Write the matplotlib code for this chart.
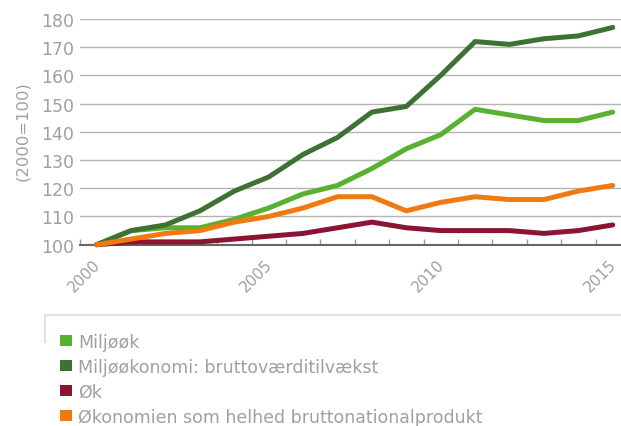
import matplotlib
matplotlib.use('Agg')
import matplotlib.pyplot as plt
import matplotlib.transforms as mtransforms
from matplotlib.lines import Line2D
from matplotlib.patches import Rectangle

years = list(range(2000, 2016))
miljoeoek = [100, 105, 106, 106, 109, 113, 118, 121, 127, 134, 139, 148, 146, 144, 144, 147]
miljoeoekonomi = [100, 105, 107, 112, 119, 124, 132, 138, 147, 149, 160, 172, 171, 173, 174, 177]
oek = [100, 101, 101, 101, 102, 103, 104, 106, 108, 106, 105, 105, 105, 104, 105, 107]
oekonomien = [100, 102, 104, 105, 108, 110, 113, 117, 117, 112, 115, 117, 116, 116, 119, 121]

labels = ['Miljøøk', 'Miljøøkonomi: bruttoværditilvækst', 'Øk',
          'Økonomien som helhed bruttonationalprodukt']
series = [miljoeoek, miljoeoekonomi, oek, oekonomien]
colors = ['#58b130', '#3e7233', '#8c1432', '#f07a12']

y_ticks = [100, 110, 120, 130, 140, 150, 160, 170, 180]
x_labels = [2000, 2005, 2010, 2015]

W, H = 621, 427
gray = '#a0a0a0'

fig = plt.figure(figsize=(W / 100, H / 100), dpi=100)
ax = fig.add_axes([79.5 / W, 1 - 245.7 / H, 550.4 / W, 225.7 / H])

# draw order: dark red, orange, dark green, light green on top
for i in [2, 3, 1, 0]:
    ax.plot(years, series[i], color=colors[i], lw=3.6, solid_capstyle='round',
            solid_joinstyle='round', clip_on=False, zorder=3 + i * 0.1)

ax.set_xlim(1999.5, 2015.5)
ax.set_ylim(100, 180)
ax.set_yticks(y_ticks)
ax.set_yticklabels([str(v) for v in y_ticks])
ax.yaxis.grid(True, color='#b4b4b4', lw=1)
ax.set_axisbelow(True)

ax.set_xticks(x_labels)
ax.set_xticklabels([str(v) for v in x_labels])
ax.set_xticks([y - 0.5 for y in years] + [2015.5], minor=True)
ax.tick_params(axis='x', which='major', length=0, pad=8, labelsize=11, labelcolor=gray)
ax.tick_params(axis='x', which='minor', direction='in', length=4.5, width=1, color='#999999')
ax.tick_params(axis='y', length=0, pad=4, labelsize=12.5, labelcolor=gray)
shift = mtransforms.ScaledTranslation(-4 / 100, 0, fig.dpi_scale_trans)
for lab in ax.get_xticklabels():
    lab.set_rotation(45)
    lab.set_ha('right')
    lab.set_va('top')
    lab.set_rotation_mode('anchor')
    lab.set_transform(lab.get_transform() + shift)

for s in ['top', 'right', 'left']:
    ax.spines[s].set_visible(False)
ax.spines['bottom'].set_color('#666666')
ax.spines['bottom'].set_linewidth(1.5)

fig.text(23 / W, 1 - 131 / H, '(2000=100)', rotation=90, ha='center', va='center',
         fontsize=11.8, color=gray)

# legend box (top and left edges only)
fig.add_artist(Line2D([45 / W, 1], [1 - 316 / H, 1 - 316 / H], color='#e2e2e2', lw=1.5))
fig.add_artist(Line2D([45 / W, 45 / W], [1 - 316 / H, 1 - 343 / H], color='#e2e2e2', lw=1.5))

row_y = [341.5, 366.5, 391.5, 416.5]
for lab, col, yc in zip(labels, colors, row_y):
    fig.add_artist(Rectangle((60 / W, 1 - (yc + 5.5) / H), 11.5 / W, 11 / H,
                             transform=fig.transFigure, color=col, lw=0))
    fig.text(78 / W, 1 - (yc + 6.3) / H, lab, ha='left', va='baseline',
             fontsize=12.5, color=gray)

fig.savefig('out.png', dpi=100)
